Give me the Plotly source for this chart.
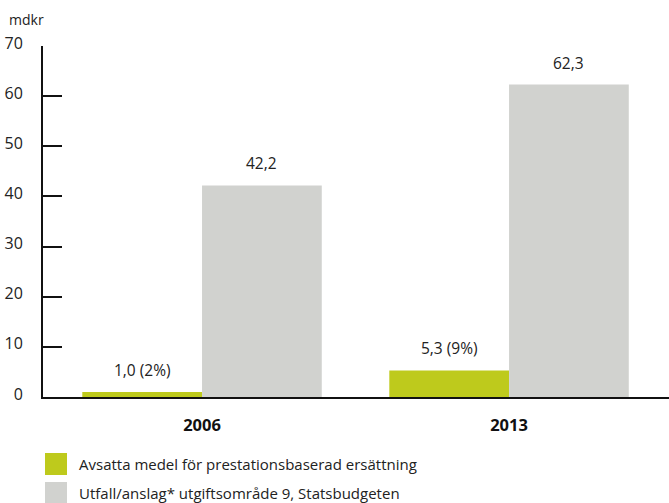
import plotly.graph_objects as go

categories = ["2006", "2013"]
series_names = ["Avsatta medel för prestationsbaserad ersättning",
                "Utfall/anslag* utgiftsområde 9, Statsbudgeten"]
green_values = [1.0, 5.3]
gray_values = [42.2, 62.3]
green_labels = ["1,0 (2%)", "5,3 (9%)"]
gray_labels = ["42,2", "62,3"]
y_ticks = [0, 10, 20, 30, 40, 50, 60, 70]
unit_label = "mdkr"

GREEN = "#BECA1C"
GRAY = "#D1D2CF"
FONT = "Open Sans"
TXT = "#222222"
BARGAP = 0.22
W, H = 669, 503
L, T, B = 43, 46, 106

fig = go.Figure()
fig.add_trace(go.Bar(x=categories, y=green_values, name=series_names[0],
                     marker=dict(color=GREEN, line=dict(width=0)), showlegend=False))
fig.add_trace(go.Bar(x=categories, y=gray_values, name=series_names[1],
                     marker=dict(color=GRAY, line=dict(width=0)), showlegend=False))

half = (1 - BARGAP) / 4
for i, cat in enumerate(categories):
    for off, val, lab in [(-half, green_values[i], green_labels[i]),
                          (half, gray_values[i], gray_labels[i])]:
        fig.add_annotation(x=i + off, y=val, text=lab, showarrow=False,
                           xref="x", yref="y", yanchor="bottom", yshift=9,
                           font=dict(family=FONT, size=15.5, color=TXT))

pw, ph = W - L, H - T - B
def px_to_paper(x, y):
    return (x - L) / pw, (H - B - y) / ph

ux, uy = px_to_paper(7, 20)
fig.add_annotation(x=ux, y=uy, xref="paper", yref="paper", text=unit_label,
                   showarrow=False, xanchor="left", yanchor="middle",
                   font=dict(family=FONT, size=14, color=TXT))

for name, col, yc in [(series_names[0], GREEN, 464), (series_names[1], GRAY, 493)]:
    x0, y0 = px_to_paper(45, yc + 11)
    x1, y1 = px_to_paper(67, yc - 11)
    fig.add_shape(type="rect", xref="paper", yref="paper", x0=x0, x1=x1, y0=y0, y1=y1,
                  line=dict(width=0), fillcolor=col, layer="above")
    tx, ty = px_to_paper(77, yc)
    fig.add_annotation(x=tx, y=ty, xref="paper", yref="paper", text=name,
                       showarrow=False, xanchor="left", yanchor="middle",
                       font=dict(family=FONT, size=15, color=TXT))

fig.update_layout(
    width=W, height=H,
    margin=dict(l=L, r=0, t=T, b=B),
    paper_bgcolor="white", plot_bgcolor="white",
    barmode="group", bargap=BARGAP, bargroupgap=0,
    font=dict(family=FONT, size=14, color=TXT),
    xaxis=dict(type="category", range=[-0.518, 1.521], showline=True,
               linecolor="#111111", linewidth=2, ticks="", showgrid=False,
               tickfont=dict(family=FONT, size=16.5, color="#111111", weight="bold"),
               ticklabelstandoff=12, zeroline=False),
    yaxis=dict(range=[0, 70], tickvals=y_ticks, showline=True,
               linecolor="#111111", linewidth=2, ticks="inside", ticklen=19,
               tickwidth=1.5, tickcolor="#111111", showgrid=False, zeroline=False,
               tickfont=dict(family=FONT, size=16, color=TXT),
               ticklabelstandoff=15, ticklabelshift=-3),
    showlegend=False,
)

fig.write_html("out.html")
